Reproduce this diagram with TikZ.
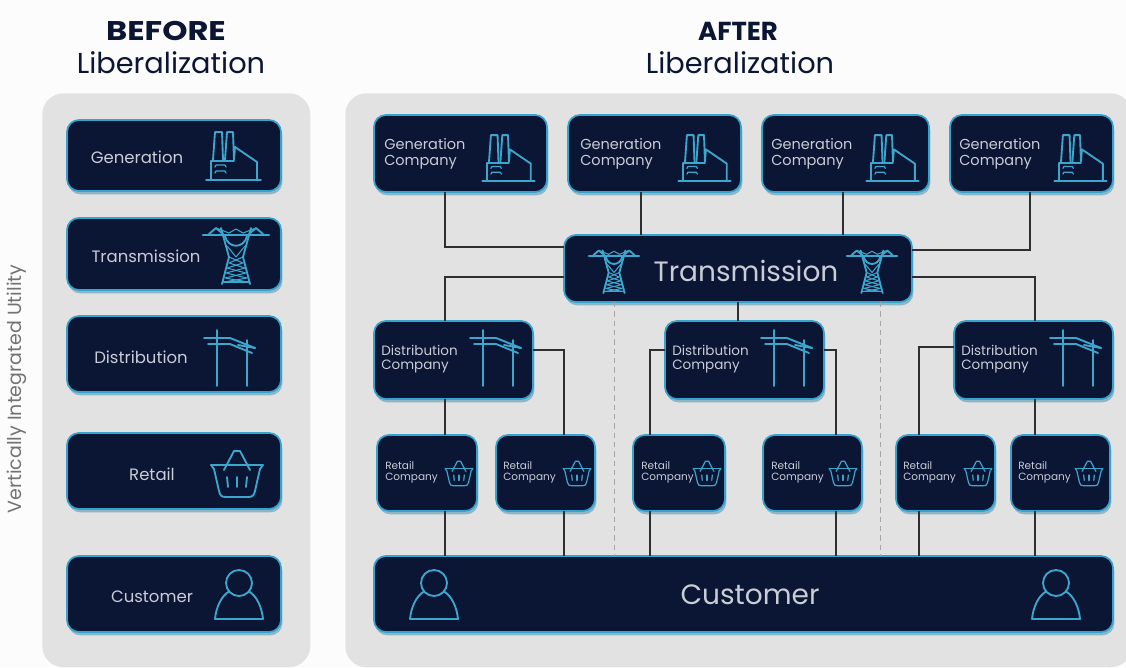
\documentclass[tikz,border=0pt]{standalone}
\usepackage{fontspec}
\setmainfont{Poppins}
\usetikzlibrary{shadows,calc}
\definecolor{navy}{HTML}{0B1534}
\definecolor{edge}{HTML}{34A3CD}
\definecolor{icon}{HTML}{3CA6CC}
\definecolor{panel}{HTML}{E2E2E2}
\definecolor{wirec}{HTML}{2E2E33}
\definecolor{label}{HTML}{C9CDD6}
\newcommand{\fsz}[1]{\pgfmathsetlengthmacro{\fa}{#1*0.75pt}\pgfmathsetlengthmacro{\fb}{#1*0.9pt}\fontsize{\fa}{\fb}\selectfont}
\newcommand{\bx}[5]{%
  \pgfmathsetlengthmacro{\bw}{(#4-#2)*0.75pt}%
  \pgfmathsetlengthmacro{\bh}{(#5-#3)*0.75pt}%
  \node[unit,minimum width=\bw,minimum height=\bh] (#1) at ({(#2+#4)/2},{(#3+#5)/2}) {};}
\tikzset{
  unit/.style={draw=edge,line width=1.3pt,fill=navy,rounded corners=9pt,inner sep=0pt,outer sep=0pt,
    drop shadow={shadow xshift=1pt,shadow yshift=-2.5pt,fill=black!20!edge,opacity=.45}},
  wire/.style={draw=wirec,line width=1pt},
  guide/.style={draw=gray!70,line width=.7pt,dash pattern=on 4pt off 3pt},
  panelbox/.style={fill=panel,draw=none,rounded corners=16pt},
  ln/.style={draw=icon,line width=1.4pt,line join=round,line cap=round},
  lab/.style={text=label,inner sep=0pt,anchor=center},
  labb/.style={text=label,inner sep=0pt,anchor=west,align=left},
  factory/.pic={
    \draw[ln] (-27,25)--(28,25);
    \draw[ln] (-22,25)--(-22,6)--(1,6);
    \draw[ln] (-20,5)--(-18,-23)--(-11,-23)--(-10,5);
    \draw[ln] (-8,5)--(-6,-23)--(0,-23)--(1,5)--(2,-8)--(24,7)--(24,25);
    \draw[ln,line width=.9pt] (-18,12)--(-17,10)--(-8,10)--(-7,12);
    \draw[ln,line width=.9pt] (-18,18)--(-17,16)--(-8,16)--(-7,18);
  },
  tower/.pic={
    \draw[ln,line width=1.8pt] (-33,-20)--(33,-20);
    \draw[ln] (-27,-21)--(-20,-27)--(-13,-21);
    \draw[ln] (27,-21)--(20,-27)--(13,-21);
    \draw[ln,line width=.8pt] (-20,-27)--(-7,-22)--(0,-26)--(7,-22)--(20,-27);
    \draw[ln] (-15,-27)--(-7,2)--(-14,29);
    \draw[ln] (15,-27)--(7,2)--(14,29);
    \draw[ln] (-11,-19) .. controls (-8,-6) and (8,-6) .. (11,-19);
    \draw[ln,line width=.8pt] (-7,2)--(7,8)--(-9,13)--(10,18)--(-11,23)--(12,27);
    \draw[ln,line width=.8pt] (7,2)--(-7,8)--(9,13)--(-10,18)--(11,23)--(-12,27);
    \draw[ln,line width=.8pt] (-9,-9)--(0,2)--(9,-9);
    \draw[ln,line width=.8pt] (-13,27)--(13,27);
  },
  pole/.pic={
    \draw[ln] (-13,-28)--(-13,28);
    \draw[ln] (17,-18)--(17,28);
    \draw[ln] (-26,-20)--(0,-20)--(25,-10);
    \draw[ln] (-22,-14)--(0,-14)--(22,-5);
    \draw[ln] (8,-13)--(25,-10);
  },
  basket/.pic={
    \draw[ln] (-26,-10)--(26,-10);
    \draw[ln] (-26,-10)--(-23,-6)--(-18,16) .. controls (-17,21) and (-15,22) .. (-11,22)--(11,22) .. controls (15,22) and (17,21) .. (18,16)--(23,-6)--(26,-10);
    \draw[ln] (-13,-5)--(-3,-24)--(3,-24)--(13,-5);
    \draw[ln] (-10,2)--(-9,12);
    \draw[ln] (0,2)--(0,12);
    \draw[ln] (10,2)--(9,12);
  },
  person/.pic={
    \draw[ln] (0,-13) circle [radius=13];
    \draw[ln] (-10,-4.5) .. controls (-18,0) and (-23,12) .. (-24,23)--(24,23) .. controls (23,12) and (18,0) .. (10,-4.5);
  },
}
\begin{document}
\begin{tikzpicture}[x=0.75pt,y=-0.75pt]
\useasboundingbox (0,0) rectangle (1126,667);
\fill[white!98!gray] (0,0) rectangle (1126,667);
\foreach \v in {445,564,614,641,650,738,836,843,880,919,1030,1035} {\coordinate (x\v) at (\v,0);}
\foreach \v in {247,250,277,347,350} {\coordinate (y\v) at (0,\v);}
\node[panelbox,minimum width=201pt,minimum height=430.5pt,anchor=north west] (pl) at (42,93) {};
\node[panelbox,minimum width=590pt,minimum height=430.5pt,anchor=north west] (pr) at (345,93) {};
% headings
\node[text=navy,inner sep=0pt,font=\fsz{27}\bfseries] (hb) at (166,31) {\scalebox{1.19}[1]{BEFORE}};
\node[text=navy,inner sep=0pt,font=\fsz{28.8}] (hb2) at (171,63) {Liberalization};
\node[text=navy,inner sep=0pt,font=\fsz{26}\bfseries] (ha) at (738,31) {AFTER};
\node[text=navy,inner sep=0pt,font=\fsz{28.8}] (ha2) at (740,63) {Liberalization};
\node[text=gray!90!black,inner sep=0pt,rotate=90,font=\fsz{19}] (vu) at (17,389) {Vertically Integrated Utility};
% left column
\bx{lg}{67}{120}{281}{191}
\bx{lt}{67}{218}{281}{290}
\bx{ld}{67}{316}{281}{392}
\bx{lr}{67}{433}{281}{509}
\bx{lc}{67}{556}{281}{632}
\node[lab,font=\fsz{16.5}] (lgt) at (137,157) {Generation};
\node[lab,font=\fsz{16.5}] (ltt) at (146,256) {Transmission};
\node[lab,font=\fsz{16.5}] (ldt) at (141,357) {Distribution};
\node[lab,font=\fsz{16.5}] (lrt) at (152,474) {Retail};
\node[lab,font=\fsz{16.5}] (lct) at (152,597) {Customer};
\pic at (233,155) {factory};
\pic at (236,255) {tower};
\pic at (230,358) {pole};
\pic at (237,475) {basket};
\pic at (239,596) {person};
% after: boxes
\bx{g1}{374}{115}{547}{192}
\bx{g2}{568}{115}{741}{192}
\bx{g3}{762}{115}{929}{192}
\bx{g4}{950}{115}{1113}{192}
\bx{tr}{564}{235}{912}{302}
\bx{d1}{374}{321}{533}{399}
\bx{d2}{665}{321}{824}{399}
\bx{d3}{954}{321}{1113}{399}
\bx{r1}{377}{435}{477}{511}
\bx{r2}{496}{435}{595}{511}
\bx{r3}{633}{435}{725}{511}
\bx{r4}{763}{435}{862}{511}
\bx{r5}{896}{435}{995}{511}
\bx{r6}{1011}{435}{1110}{511}
\bx{cu}{374}{556}{1113}{632}
% connectors
\draw[wire] (g1.south -| x445) |- (tr.west |- y247);
\draw[wire] (g2.south -| x641) -- (tr.north -| x641);
\draw[wire] (g3.south -| x843) -- (tr.north -| x843);
\draw[wire] (g4.south -| x1030) |- (tr.east |- y250);
\draw[wire] (tr.west |- y277) -| (d1.north -| x445);
\draw[wire] (tr.south -| x738) -- (d2.north -| x738);
\draw[wire] (tr.east |- y277) -| (d3.north -| x1035);
\draw[wire] (d1.south -| x445) -- (r1.north -| x445);
\draw[wire] (d1.east |- y350) -| (r2.north -| x564);
\draw[wire] (d2.west |- y350) -| (r3.north -| x650);
\draw[wire] (d2.east |- y350) -| (r4.north -| x836);
\draw[wire] (d3.west |- y347) -| (r5.north -| x919);
\draw[wire] (d3.south -| x1035) -- (r6.north -| x1035);
\draw[wire] (r1.south -| x445) -- (cu.north -| x445);
\draw[wire] (r2.south -| x564) -- (cu.north -| x564);
\draw[wire] (r3.south -| x650) -- (cu.north -| x650);
\draw[wire] (r4.south -| x836) -- (cu.north -| x836);
\draw[wire] (r5.south -| x919) -- (cu.north -| x919);
\draw[wire] (r6.south -| x1035) -- (cu.north -| x1035);
\draw[guide] (tr.south -| x614) -- (cu.north -| x614);
\draw[guide] (tr.south -| x880) -- (cu.north -| x880);
% after: text
\node[labb,font=\fsz{14.5},text width=70pt] (g1t) at (384,154) {Generation\\[-1.5pt]Company};
\node[labb,font=\fsz{14.5},text width=70pt] (g2t) at (580,154) {Generation\\[-1.5pt]Company};
\node[labb,font=\fsz{14.5},text width=70pt] (g3t) at (771,154) {Generation\\[-1.5pt]Company};
\node[labb,font=\fsz{14.5},text width=70pt] (g4t) at (959,154) {Generation\\[-1.5pt]Company};
\node[lab,font=\fsz{28}] (trt) at (746,271) {Transmission};
\node[lab,font=\fsz{28}] (cut) at (750,595) {Customer};
\node[labb,font=\fsz{13.5},text width=70pt] (d1t) at (381,359) {Distribution\\[-1.5pt]Company};
\node[labb,font=\fsz{13.5},text width=70pt] (d2t) at (672,359) {Distribution\\[-1.5pt]Company};
\node[labb,font=\fsz{13.5},text width=70pt] (d3t) at (961,359) {Distribution\\[-1.5pt]Company};
\node[labb,font=\fsz{10.5},text width=45pt] (r1t) at (385,472) {Retail\\[-1pt]Company};
\node[labb,font=\fsz{10.5},text width=45pt] (r2t) at (503,472) {Retail\\[-1pt]Company};
\node[labb,font=\fsz{10.5},text width=45pt] (r3t) at (641,472) {Retail\\[-1pt]Company};
\node[labb,font=\fsz{10.5},text width=45pt] (r4t) at (771,472) {Retail\\[-1pt]Company};
\node[labb,font=\fsz{10.5},text width=45pt] (r5t) at (903,472) {Retail\\[-1pt]Company};
\node[labb,font=\fsz{10.5},text width=45pt] (r6t) at (1018,472) {Retail\\[-1pt]Company};
% after: icons
\pic[scale=.95] at (508,157) {factory};
\pic[scale=.95] at (704,157) {factory};
\pic[scale=.95] at (892,157) {factory};
\pic[scale=.95] at (1080,157) {factory};
\pic[scale=.76] at (614,271) {tower};
\pic[scale=.76] at (872,271) {tower};
\pic at (496,358) {pole};
\pic at (787,358) {pole};
\pic at (1076,358) {pole};
\tikzset{ln/.append style={line width=.9pt}}
\pic[scale=.53] at (459,474) {basket};
\pic[scale=.53] at (577,474) {basket};
\pic[scale=.53] at (707,474) {basket};
\pic[scale=.53] at (843,474) {basket};
\pic[scale=.53] at (978,474) {basket};
\pic[scale=.53] at (1089,474) {basket};
\tikzset{ln/.append style={line width=1.4pt}}
\pic at (434,596) {person};
\pic at (1056,596) {person};
\end{tikzpicture}
\end{document}
